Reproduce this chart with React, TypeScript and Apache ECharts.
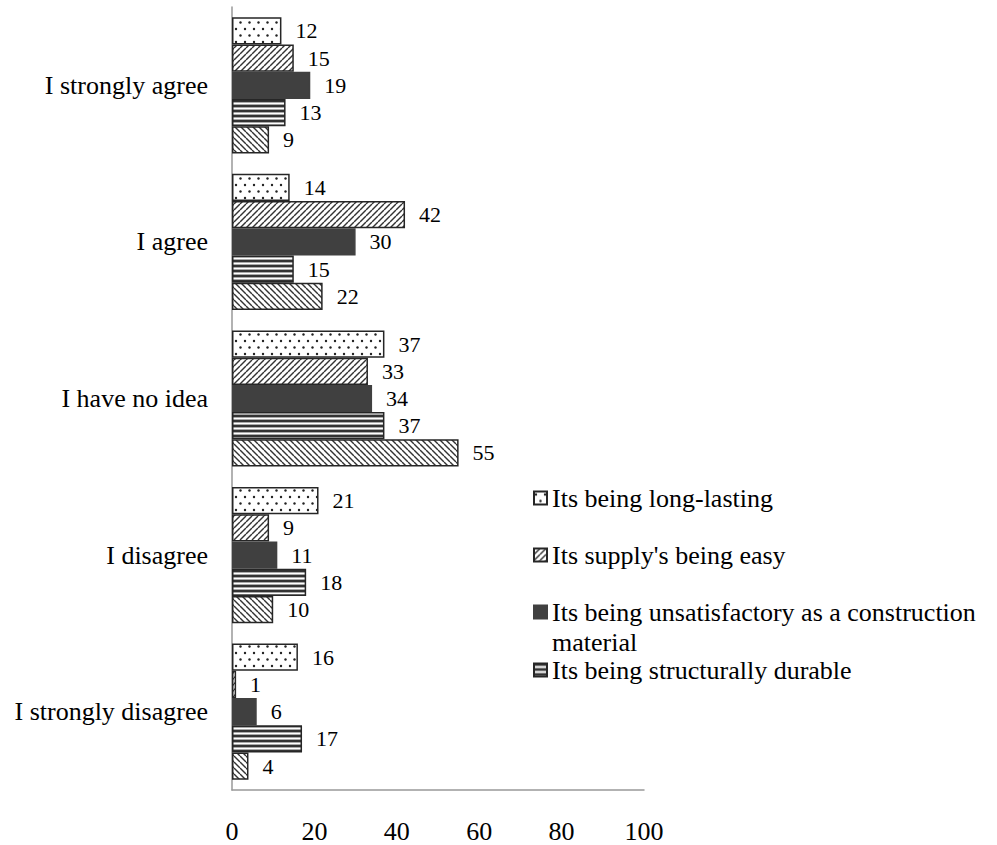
import React, { useEffect, useRef } from "react";
import * as echarts from "echarts";

const categories = [
  "I strongly agree",
  "I agree",
  "I have no idea",
  "I disagree",
  "I strongly disagree",
];
const seriesNames = [
  "Its being long-lasting",
  "Its supply's being easy",
  "Its being unsatisfactory as a construction material",
  "Its being structurally durable",
  "Other",
];
const longLasting = [12, 14, 37, 21, 16];
const supplyEasy = [15, 42, 33, 9, 1];
const unsatisfactory = [19, 30, 34, 11, 6];
const structurallyDurable = [13, 15, 37, 18, 17];
const other = [9, 22, 55, 10, 4];
const xTicks = [0, 20, 40, 60, 80, 100];

const FONT = "Liberation Serif";

function makeCanvas(w: number, h: number) {
  const c = document.createElement("canvas");
  c.width = w;
  c.height = h;
  return c;
}

function dotsPattern() {
  const c = makeCanvas(9, 13);
  const ctx = c.getContext("2d")!;
  ctx.fillStyle = "#ffffff";
  ctx.fillRect(0, 0, 9, 13);
  ctx.fillStyle = "#222222";
  ctx.beginPath();
  ctx.arc(2, 3, 1.2, 0, Math.PI * 2);
  ctx.fill();
  ctx.beginPath();
  ctx.arc(6.5, 9.5, 1.2, 0, Math.PI * 2);
  ctx.fill();
  return c;
}

function hatchPattern(forward: boolean) {
  const s = 6;
  const c = makeCanvas(s, s);
  const ctx = c.getContext("2d")!;
  ctx.fillStyle = "#ffffff";
  ctx.fillRect(0, 0, s, s);
  ctx.strokeStyle = "#333333";
  ctx.lineWidth = 1.4;
  for (let k = -1; k <= 1; k++) {
    ctx.beginPath();
    if (forward) {
      ctx.moveTo(k * s, s);
      ctx.lineTo(k * s + s, 0);
    } else {
      ctx.moveTo(k * s, 0);
      ctx.lineTo(k * s + s, s);
    }
    ctx.stroke();
  }
  return c;
}

function stripesPattern() {
  const c = makeCanvas(4, 5);
  const ctx = c.getContext("2d")!;
  ctx.fillStyle = "#ffffff";
  ctx.fillRect(0, 0, 4, 5);
  ctx.fillStyle = "#333333";
  ctx.fillRect(0, 0, 4, 2);
  ctx.fillStyle = "#aaaaaa";
  ctx.fillRect(0, 2, 4, 1);
  ctx.fillRect(0, 4, 4, 1);
  return c;
}

export default function App() {
  const ref = useRef<HTMLDivElement>(null);

  useEffect(() => {
    if (!ref.current) return;
    const chart = echarts.init(ref.current, undefined, { renderer: "svg" });

    const fills: any[] = [
      { image: dotsPattern(), repeat: "repeat" },
      { image: hatchPattern(true), repeat: "repeat" },
      "#404040",
      { image: stripesPattern(), repeat: "repeat" },
      { image: hatchPattern(false), repeat: "repeat" },
    ];
    const values = [longLasting, supplyEasy, unsatisfactory, structurallyDurable, other];

    const legendTops = [483, 540, 567, 655];

    const option: any = {
      animation: false,
      backgroundColor: "#ffffff",
      textStyle: { fontFamily: FONT },
      grid: { left: 232, right: 353, top: 7, bottom: 55, containLabel: false },
      xAxis: {
        type: "value",
        min: 0,
        max: 100,
        interval: 20,
        axisLine: { show: true, lineStyle: { color: "#999999", width: 1.5 } },
        axisTick: { show: false },
        splitLine: { show: false },
        axisLabel: {
          fontFamily: FONT,
          fontSize: 26,
          color: "#000000",
          margin: 28,
          formatter: (v: number) => (xTicks.includes(v) ? String(v) : ""),
        },
      },
      yAxis: {
        type: "category",
        inverse: true,
        data: categories,
        axisLine: { show: true, lineStyle: { color: "#999999", width: 1.5 } },
        axisTick: { show: false },
        axisLabel: {
          fontFamily: FONT,
          fontSize: 26,
          color: "#000000",
          margin: 24,
        },
      },
      legend: [0, 1, 2, 3].map((i) => ({
        data: [seriesNames[i]],
        left: 533,
        top: legendTops[i],
        padding: 0,
        icon: "rect",
        itemWidth: 13,
        itemHeight: 13,
        selectedMode: false,
        formatter:
          i === 2
            ? () => " \nIts being unsatisfactory as a construction\nmaterial"
            : undefined,
        textStyle: {
          fontFamily: FONT,
          fontSize: 26,
          color: "#000000",
          lineHeight: 30,
        },
      })),
      series: values.map((vals, i) => ({
        type: "bar",
        name: seriesNames[i],
        data: vals,
        barGap: "0%",
        barCategoryGap: "13%",
        itemStyle: {
          color: fills[i],
          borderColor: i === 2 ? "#404040" : "#262626",
          borderWidth: 1.5,
        },
        label: {
          show: true,
          position: "right",
          distance: 14,
          fontFamily: FONT,
          fontSize: 22,
          color: "#000000",
        },
      })),
    };

    chart.setOption(option);
    return () => chart.dispose();
  }, []);

  return (
    <div
      ref={ref}
      style={{ position: "fixed", left: 0, top: 0, width: 997, height: 845 }}
    />
  );
}
